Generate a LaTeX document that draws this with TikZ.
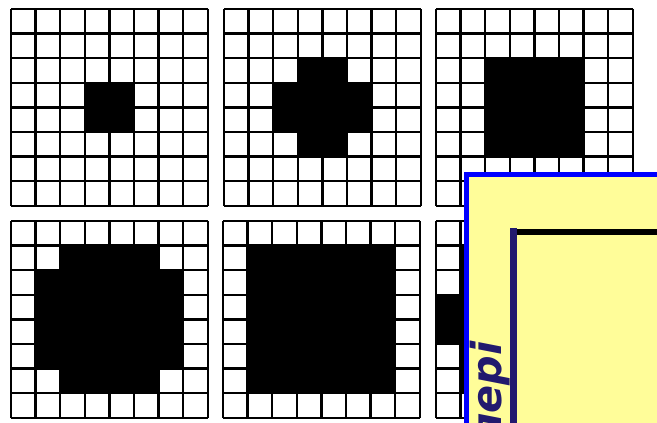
\documentclass[tikz,border=0pt]{standalone}
\usepackage{fontspec}
\newfontfamily\notefont{DejaVu Sans}[BoldItalicFont={DejaVu Sans Bold Oblique}]
\usetikzlibrary{calc}
\definecolor{notepaper}{RGB}{255,253,153}
\definecolor{noteblue}{RGB}{0,0,255}
\definecolor{notenavy}{RGB}{34,26,110}

\begin{document}
\begin{tikzpicture}[x=0.75pt, y=-0.75pt,
    cellline/.style={line width=1.9pt, black},
    notetext/.style={font=\notefont\bfseries\itshape\fontsize{31}{34}\selectfont,
      text=notenavy, inner sep=0pt, rotate=90}]
  \useasboundingbox (0,0) rectangle (657,423);
  \fill[white] (0,0) rectangle (657,423);

  % Six 8x8 grids: left, top, black blocks (col/row/col/row in cells)
  \foreach \gx/\gy/\blocks in {11/9/{3/3/5/5},
                               224/9/{3/2/5/6, 2/3/6/5},
                               436/9/{2/2/6/6},
                               11/221/{2/1/6/7, 1/2/7/6},
                               223/221/{1/1/7/7},
                               436/221/{0/3/8/5, 1/1/7/7, 3/0/5/8}} {
    \foreach \ca/\ra/\cb/\rb in \blocks
      \fill ({\gx+\ca*24.6}, {\gy+\ra*24.6}) rectangle ({\gx+\cb*24.6}, {\gy+\rb*24.6});
    \foreach \k in {0,...,8} {
      \draw[cellline] ({\gx+\k*24.6}, \gy) -- ({\gx+\k*24.6}, {\gy+196.8});
      \draw[cellline] (\gx, {\gy+\k*24.6}) -- ({\gx+196.8}, {\gy+\k*24.6});
    }
  }

  % Yellow note over the last grid
  \draw[line width=3.75pt, noteblue, fill=notepaper] (466.7,174.3) rectangle (720,480);

  % Inner frame
  \fill[notenavy] (510,228) rectangle (517,440);
  \fill[black] (517,229) rectangle (680,235);

  % Side label
  \node[notetext, anchor=base east] (sidelabel) at (501,341) {пері};
\end{tikzpicture}
\end{document}
